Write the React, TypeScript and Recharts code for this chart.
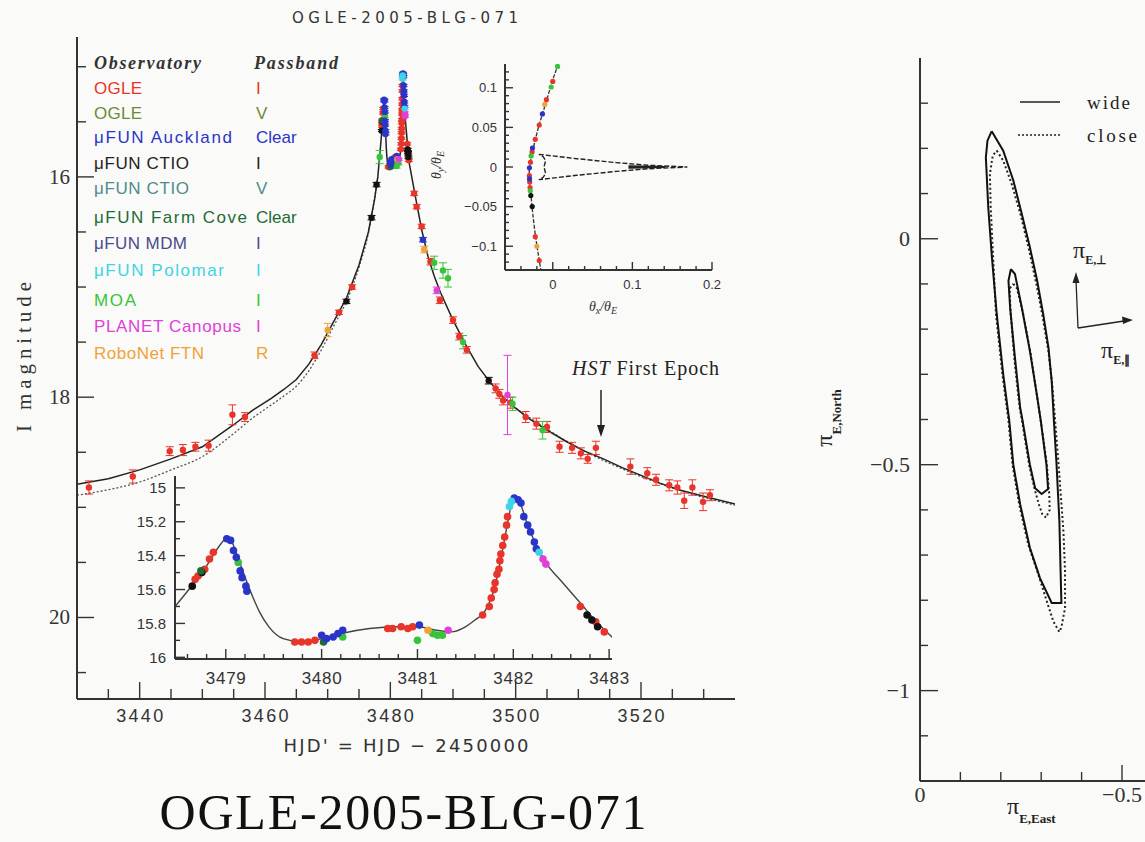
import React from "react";
import { ComposedChart, Line, Scatter, XAxis, YAxis, ErrorBar } from "recharts";

// ---------- light curve: [HJD', I mag, error] per observatory ----------
const ogleI = [
  [3431.9, 18.82, 0.06], [3438.9, 18.72, 0.06], [3444.8, 18.49, 0.04], [3446.9, 18.48, 0.05],
  [3448.9, 18.45, 0.04], [3451.0, 18.44, 0.05], [3454.8, 18.16, 0.09], [3456.8, 18.18, 0.04],
  [3467.9, 17.62, 0.03], [3471.8, 17.23, 0.02], [3473.9, 17.0, 0.02],
  [3478.68, 15.54, 0.01], [3478.71, 15.52, 0.01], [3478.78, 15.48, 0.01], [3478.83, 15.42, 0.01], [3478.87, 15.38, 0.01],
  [3479.72, 15.91, 0.01], [3479.79, 15.91, 0.01], [3479.86, 15.91, 0.01], [3479.93, 15.9, 0.01],
  [3480.69, 15.83, 0.01], [3480.74, 15.83, 0.01], [3480.83, 15.82, 0.01], [3480.9, 15.83, 0.01], [3480.95, 15.82, 0.01],
  [3481.68, 15.75, 0.01], [3481.75, 15.7, 0.01], [3481.77, 15.65, 0.01], [3481.8, 15.6, 0.01], [3481.81, 15.56, 0.01],
  [3481.83, 15.51, 0.01], [3481.85, 15.48, 0.01], [3481.86, 15.43, 0.01], [3481.87, 15.39, 0.01], [3481.89, 15.34, 0.01],
  [3481.91, 15.29, 0.01], [3481.93, 15.22, 0.01], [3481.94, 15.17, 0.01],
  [3482.7, 15.7, 0.01], [3482.86, 15.79, 0.01], [3482.95, 15.85, 0.01],
  [3483.8, 16.15, 0.02], [3484.2, 16.27, 0.02], [3485.0, 16.45, 0.02], [3486.4, 16.77, 0.03], [3487.9, 17.12, 0.03],
  [3490.0, 17.3, 0.03], [3491.0, 17.45, 0.03], [3492.2, 17.57, 0.03],
  [3496.8, 17.92, 0.04], [3497.4, 17.97, 0.04], [3498.0, 18.03, 0.04], [3499.2, 18.05, 0.05], [3501.6, 18.18, 0.05],
  [3503.3, 18.24, 0.05], [3505.0, 18.27, 0.05], [3507.0, 18.45, 0.05], [3509.0, 18.46, 0.05], [3510.4, 18.51, 0.05],
  [3511.5, 18.56, 0.04], [3512.8, 18.46, 0.06], [3518.3, 18.63, 0.07], [3521.0, 18.69, 0.05], [3522.4, 18.75, 0.05],
  [3524.5, 18.8, 0.05], [3525.8, 18.82, 0.06], [3526.9, 18.94, 0.07], [3528.2, 18.82, 0.07], [3529.9, 18.95, 0.08],
  [3531.0, 18.89, 0.05],
];
const moa = [
  [3478.3, 15.82, 0.06], [3479.13, 15.44, 0.02], [3480.22, 15.88, 0.02], [3481.0, 15.9, 0.02], [3481.16, 15.86, 0.02],
  [3481.21, 15.87, 0.02], [3481.26, 15.87, 0.02], [3487.0, 16.78, 0.06], [3488.4, 16.85, 0.07], [3489.2, 16.92, 0.08],
  [3491.6, 17.5, 0.06], [3499.5, 18.06, 0.06], [3504.3, 18.3, 0.08],
];
const auckland = [
  [3479.01, 15.3, 0.01], [3479.05, 15.31, 0.01], [3479.08, 15.37, 0.01], [3479.11, 15.41, 0.01], [3479.15, 15.49, 0.01],
  [3479.17, 15.53, 0.01], [3479.21, 15.58, 0.01], [3479.22, 15.61, 0.01], [3480.0, 15.87, 0.01], [3480.05, 15.89, 0.01],
  [3480.12, 15.88, 0.01], [3480.17, 15.86, 0.01], [3480.22, 15.84, 0.01], [3481.02, 15.81, 0.01], [3482.01, 15.06, 0.01],
  [3482.05, 15.07, 0.01], [3482.08, 15.09, 0.01], [3482.11, 15.17, 0.01], [3482.15, 15.22, 0.01], [3482.18, 15.26, 0.01],
  [3482.22, 15.32, 0.01], [3482.24, 15.36, 0.01], [3485.2, 16.57, 0.02],
];
const ctioI = [
  [3473.0, 17.13, 0.02], [3477.0, 16.37, 0.02], [3477.8, 16.07, 0.02], [3478.65, 15.58, 0.01], [3478.75, 15.5, 0.01],
  [3482.77, 15.75, 0.01], [3482.82, 15.78, 0.01], [3482.88, 15.82, 0.01], [3495.7, 17.85, 0.03],
];
const planet = [[3481.32, 15.84, 0.01], [3482.31, 15.42, 0.01], [3482.34, 15.45, 0.01], [3487.4, 17.03, 0.03], [3498.7, 17.98, 0.36]];
const robonet = [[3470.0, 17.39, 0.06], [3481.11, 15.84, 0.01], [3485.4, 16.66, 0.03]];
const palomar = [[3481.96, 15.11, 0.01], [3481.98, 15.08, 0.01], [3482.27, 15.38, 0.01]];
const farmCove = [[3478.74, 15.49, 0.01], [3480.02, 15.91, 0.01]];

// best-fit models: [HJD', I mag]
const wideModel = [
  [3430, 18.79], [3435, 18.74], [3440, 18.66], [3445, 18.56], [3450, 18.45], [3455, 18.25], [3458, 18.12],
  [3461, 18.01], [3463, 17.93], [3465, 17.84], [3467, 17.7], [3469, 17.52], [3471, 17.31], [3473, 17.1],
  [3475, 16.8], [3476.5, 16.5], [3477.5, 16.2], [3478, 16.0], [3478.47, 15.7], [3478.6, 15.61], [3478.8, 15.46],
  [3478.95, 15.33], [3479.0, 15.3], [3479.05, 15.31], [3479.15, 15.45], [3479.25, 15.6], [3479.35, 15.73],
  [3479.45, 15.82], [3479.6, 15.89], [3479.8, 15.91], [3480.0, 15.89], [3480.2, 15.86], [3480.5, 15.83],
  [3480.8, 15.82], [3481.0, 15.82], [3481.2, 15.84], [3481.35, 15.85], [3481.5, 15.82], [3481.6, 15.78],
  [3481.7, 15.73], [3481.8, 15.6], [3481.9, 15.33], [3481.95, 15.18], [3482.0, 15.06], [3482.05, 15.07],
  [3482.15, 15.22], [3482.25, 15.35], [3482.35, 15.45], [3482.5, 15.55], [3482.7, 15.68], [3482.9, 15.81],
  [3483.03, 15.88], [3484, 16.18], [3485, 16.48], [3486, 16.72], [3487, 16.9], [3488, 17.05], [3490, 17.3],
  [3492, 17.52], [3494, 17.72], [3496, 17.87], [3498, 18.0], [3500, 18.1], [3502, 18.19], [3505, 18.3],
  [3508, 18.4], [3511, 18.49], [3514, 18.56], [3517, 18.64], [3520, 18.71], [3523, 18.78], [3526, 18.84],
  [3530, 18.9], [3535, 18.97],
];
const closeModelRise = [
  [3430, 18.89], [3435, 18.84], [3440, 18.77], [3445, 18.66], [3450, 18.54], [3455, 18.33], [3458, 18.19],
  [3461, 18.07], [3463, 17.99], [3465, 17.9], [3467, 17.76], [3469, 17.57], [3471, 17.35], [3473, 17.13],
  [3475, 16.82], [3476.5, 16.51], [3478, 16.0],
];
const closeModelFall = [[3500, 18.1], [3510, 18.46], [3520, 18.72], [3530, 18.91], [3535, 18.98]];

// source trajectory and caustic: [θx/θE, θy/θE]
const trajectory = [
  [0.007, 0.13], [0.0, 0.11], [-0.006, 0.09], [-0.012, 0.07], [-0.018, 0.05], [-0.023, 0.03], [-0.027, 0.012],
  [-0.0295, -0.005], [-0.029, -0.02], [-0.027, -0.04], [-0.025, -0.06], [-0.022, -0.085], [-0.019, -0.105], [-0.015, -0.13],
];
const caustic = [
  [-0.0175, 0.016], [0.03, 0.0105], [0.08, 0.0055], [0.12, 0.0022], [0.169, 0], [0.12, -0.0022], [0.08, -0.0055],
  [0.03, -0.0105], [-0.0175, -0.016], [-0.012, -0.013], [-0.009, -0.008], [-0.011, 0], [-0.009, 0.008],
  [-0.012, 0.013], [-0.0175, 0.016],
];
const causticWing = [[0.095, 0.0012], [0.14, 0.0002], [0.14, -0.0002], [0.095, -0.0012]];
const trajRed = [[0.0, 0.108], [-0.008, 0.085], [-0.017, 0.053], [-0.022, 0.035], [-0.026, 0.019], [-0.028, 0.006], [-0.0294, -0.011], [-0.029, -0.019], [-0.0285, -0.026], [-0.022, -0.088], [-0.017, -0.118]];
const trajBlue = [[-0.013, 0.067], [-0.0255, 0.024], [-0.0293, -0.001], [-0.0292, -0.015]];
const trajGreen = [[0.006, 0.127], [-0.002, 0.101], [-0.0272, 0.014], [-0.0283, -0.03]];
const trajOrange = [[-0.01, 0.079], [-0.02, -0.1]];
const trajBlack = [[-0.0276, -0.036], [-0.0258, -0.05]];

// parallax contours: [πE,East, πE,North]
const wideOuter = [
  [-0.1775, 0.238], [-0.206, 0.195], [-0.231, 0.129], [-0.252, 0.055], [-0.272, -0.019], [-0.29, -0.093],
  [-0.305, -0.167], [-0.318, -0.241], [-0.326, -0.315], [-0.332, -0.411], [-0.338, -0.5], [-0.345, -0.625],
  [-0.348, -0.736], [-0.35, -0.806], [-0.326, -0.806], [-0.297, -0.751], [-0.272, -0.684], [-0.248, -0.588],
  [-0.231, -0.5], [-0.221, -0.403], [-0.206, -0.3], [-0.19, -0.167], [-0.178, -0.041], [-0.169, 0.069],
  [-0.163, 0.18], [-0.167, 0.217], [-0.1775, 0.238],
];
const wideInner = [
  [-0.225, -0.067], [-0.235, -0.078], [-0.252, -0.152], [-0.272, -0.248], [-0.289, -0.344], [-0.299, -0.403],
  [-0.313, -0.5], [-0.317, -0.554], [-0.301, -0.565], [-0.285, -0.552], [-0.272, -0.5], [-0.254, -0.403],
  [-0.248, -0.374], [-0.235, -0.263], [-0.223, -0.152], [-0.219, -0.093], [-0.225, -0.067],
];
const closeOuter = [
  [-0.19, 0.195], [-0.206, 0.173], [-0.227, 0.121], [-0.25, 0.05], [-0.27, -0.025], [-0.288, -0.1],
  [-0.304, -0.175], [-0.318, -0.25], [-0.328, -0.33], [-0.336, -0.42], [-0.343, -0.5], [-0.355, -0.647],
  [-0.359, -0.736], [-0.359, -0.817], [-0.35, -0.86], [-0.345, -0.87], [-0.33, -0.847], [-0.313, -0.8],
  [-0.293, -0.743], [-0.268, -0.677], [-0.246, -0.59], [-0.229, -0.5], [-0.219, -0.403], [-0.204, -0.3],
  [-0.188, -0.167], [-0.181, -0.041], [-0.175, 0.069], [-0.173, 0.143], [-0.18, 0.184], [-0.19, 0.195],
];
const closeInner = [
  [-0.231, -0.1], [-0.24, -0.11], [-0.255, -0.165], [-0.274, -0.255], [-0.29, -0.35], [-0.3, -0.41],
  [-0.314, -0.5], [-0.32, -0.566], [-0.321, -0.6], [-0.312, -0.617], [-0.303, -0.61], [-0.295, -0.59],
  [-0.284, -0.555], [-0.27, -0.5], [-0.253, -0.405], [-0.246, -0.37], [-0.234, -0.27], [-0.224, -0.16],
  [-0.222, -0.11], [-0.231, -0.1],
];

// legend rows: observatory, passband, colour
const legendRows = [
  ["OGLE", "I", "#e8352b"], ["OGLE", "V", "#6f8a35"], ["μFUN Auckland", "Clear", "#2a35c8"],
  ["μFUN CTIO", "I", "#222222"], ["μFUN CTIO", "V", "#4f8c8c"], ["μFUN Farm Cove", "Clear", "#1f6b35"],
  ["μFUN MDM", "I", "#4b4a8e"], ["μFUN Polomar", "I", "#3fd3e6"], ["MOA", "I", "#38c43a"],
  ["PLANET Canopus", "I", "#e040d8"], ["RoboNet FTN", "R", "#f0a23a"],
];
const legendY = [88, 113, 137, 163, 188, 217, 243, 270, 300, 326, 353];
const legendW = [48, 48, 138, 95, 95, 153, 93, 130, 42, 147, 110];

const INK = "#333";
const SANS = "Liberation Sans";
const SERIF = "Liberation Serif";

const pts = (a: number[][]) => a.map(([x, y, e]) => ({ x, y, e }));
const xy = (a: number[][]) => a.map(([x, y]) => ({ x, y }));
const steps = (a: number, b: number, s: number) => {
  const out: number[] = [];
  for (let i = 0; a + i * s <= b + 1e-9; i++) out.push(+(a + i * s).toFixed(4));
  return out;
};
const isMult = (v: number, m: number) => Math.abs(v / m - Math.round(v / m)) < 1e-6;
const minus = (v: number) => (v < 0 ? "\u2212" + String(-v) : String(v));

const series = [
  { d: ogleI, c: "#e8352b" }, { d: moa, c: "#38c43a" }, { d: ctioI, c: "#111" }, { d: farmCove, c: "#1f6b35" },
  { d: auckland, c: "#2a35c8" }, { d: robonet, c: "#f0a23a" }, { d: planet, c: "#e040d8" }, { d: palomar, c: "#3fd3e6" },
];

type Side = "bottom" | "top" | "left" | "right";
interface TickStyle {
  major: (v: number) => boolean;
  majorLen: number;
  minorLen: number;
  label?: (v: number) => string | null;
  gap?: number;
  font?: string;
  size?: number;
  width?: number;
}
const frameTick = (side: Side, s: TickStyle) => (props: any) => {
  const { x, y, payload } = props;
  const v = payload.value as number;
  const len = s.major(v) ? s.majorLen : s.minorLen;
  const x2 = side === "left" ? x + len : side === "right" ? x - len : x;
  const y2 = side === "bottom" ? y - len : side === "top" ? y + len : y;
  const txt = s.label ? s.label(v) : null;
  const gap = s.gap ?? 8;
  return (
    <g>
      <line x1={x} y1={y} x2={x2} y2={y2} stroke={INK} strokeWidth={1.4} />
      {txt && (
        <text
          x={side === "left" ? x - gap : x}
          y={side === "bottom" ? y + gap : y}
          textAnchor={side === "left" ? "end" : "middle"}
          dominantBaseline="central"
          fontFamily={s.font}
          fontSize={s.size}
          fill={INK}
          textLength={s.width}
          lengthAdjust="spacing"
        >
          {txt}
        </text>
      )}
    </g>
  );
};

const frame = { stroke: INK, strokeWidth: 2 };
const dot = (color: string, r: number) => (p: any) => <circle cx={p.cx} cy={p.cy} r={r} fill={color} />;

function MainCurve() {
  const xd: [number, number] = [3430, 3535];
  const yd: [number, number] = [14.73, 20.74];
  const xt = steps(3435, 3530, 5);
  const yt = steps(15, 20.5, 0.5);
  const xMaj = (v: number) => isMult(v, 20);
  const yMaj = (v: number) => isMult(v, 2);
  return (
    <ComposedChart width={760} height={760} margin={{ top: 37, right: 25, bottom: 21, left: 17 }}>
      <XAxis dataKey="x" type="number" domain={xd} ticks={xt} interval={0} allowDataOverflow height={40}
        tickSize={0} tickMargin={0} tickLine={false} axisLine={frame}
        tick={frameTick("bottom", { major: xMaj, majorLen: 17, minorLen: 10, label: (v) => (xMaj(v) ? String(v) : null), gap: 17, font: SANS, size: 18, width: 47 })} />
      <XAxis xAxisId="top" orientation="top" type="number" domain={xd} ticks={xt} interval={0} allowDataOverflow height={0}
        tickSize={0} tickMargin={0} tickLine={false} axisLine={frame}
        tick={frameTick("top", { major: xMaj, majorLen: 14, minorLen: 8 })} />
      <YAxis dataKey="y" type="number" domain={yd} reversed ticks={yt} interval={0} allowDataOverflow width={60}
        tickSize={0} tickMargin={0} tickLine={false} axisLine={frame}
        tick={frameTick("left", { major: yMaj, majorLen: 17, minorLen: 9, label: (v) => (yMaj(v) ? String(v) : null), gap: 7, font: SERIF, size: 21 })} />
      <YAxis yAxisId="right" orientation="right" type="number" domain={yd} reversed ticks={yt} interval={0} allowDataOverflow width={0}
        tickSize={0} tickMargin={0} tickLine={false} axisLine={frame}
        tick={frameTick("right", { major: yMaj, majorLen: 17, minorLen: 8 })} />
      <Line data={xy(closeModelRise)} dataKey="y" type="monotone" stroke="#555" strokeWidth={1.3} strokeDasharray="2 2" dot={false} activeDot={false} isAnimationActive={false} />
      <Line data={xy(closeModelFall)} dataKey="y" type="monotone" stroke="#555" strokeWidth={1.3} strokeDasharray="2 2" dot={false} activeDot={false} isAnimationActive={false} />
      <Line data={xy(wideModel)} dataKey="y" type="linear" stroke="#222" strokeWidth={1.5} dot={false} activeDot={false} isAnimationActive={false} />
      {series.map((s, i) => (
        <Scatter key={i} data={pts(s.d)} fill={s.c} shape={dot(s.c, 3.2)} isAnimationActive={false}>
          <ErrorBar dataKey="e" direction="y" width={4} stroke={s.c} strokeWidth={1} />
        </Scatter>
      ))}
    </ComposedChart>
  );
}

function PeakInset() {
  const xd: [number, number] = [3478.47, 3483.03];
  const yd: [number, number] = [14.93, 16.01];
  const xt = steps(3478.6, 3483.0, 0.2);
  const yt = steps(15, 16, 0.1);
  const xMaj = (v: number) => isMult(v, 1);
  const yMaj = (v: number) => isMult(v, 0.2);
  return (
    <ComposedChart width={520} height={260} margin={{ top: 36, right: 28, bottom: 11, left: 15 }}>
      <XAxis dataKey="x" type="number" domain={xd} ticks={xt} interval={0} allowDataOverflow height={30}
        tickSize={0} tickMargin={0} tickLine={false} axisLine={frame}
        tick={frameTick("bottom", { major: xMaj, majorLen: 10, minorLen: 5, label: (v) => (xMaj(v) ? String(v) : null), gap: 19, font: SANS, size: 17, width: 40 })} />
      <XAxis xAxisId="top" orientation="top" type="number" domain={xd} ticks={xt} interval={0} allowDataOverflow height={0}
        tickSize={0} tickMargin={0} tickLine={false} axisLine={frame}
        tick={frameTick("top", { major: xMaj, majorLen: 10, minorLen: 5 })} />
      <YAxis dataKey="y" type="number" domain={yd} reversed ticks={yt} interval={0} allowDataOverflow width={40}
        tickSize={0} tickMargin={0} tickLine={false} axisLine={frame}
        tick={frameTick("left", { major: yMaj, majorLen: 10, minorLen: 5, label: (v) => (yMaj(v) ? String(v) : null), gap: 9, font: SANS, size: 15 })} />
      <YAxis yAxisId="right" orientation="right" type="number" domain={yd} reversed ticks={yt} interval={0} allowDataOverflow width={0}
        tickSize={0} tickMargin={0} tickLine={false} axisLine={frame}
        tick={frameTick("right", { major: yMaj, majorLen: 10, minorLen: 5 })} />
      <Line data={xy(wideModel)} dataKey="y" type="monotone" stroke="#444" strokeWidth={1.4} dot={false} activeDot={false} isAnimationActive={false} />
      {series.map((s, i) => (
        <Scatter key={i} data={pts(s.d)} fill={s.c} shape={dot(s.c, 3.8)} isAnimationActive={false} />
      ))}
    </ComposedChart>
  );
}

function CausticInset() {
  const xd: [number, number] = [-0.06, 0.2];
  const yd: [number, number] = [-0.13, 0.13];
  const xt = steps(-0.04, 0.2, 0.02);
  const yt = steps(-0.12, 0.12, 0.01);
  const xMaj = (v: number) => isMult(v, 0.1);
  const yMaj = (v: number) => isMult(v, 0.05);
  const trajDots = [
    { d: trajRed, c: "#e8352b" }, { d: trajBlue, c: "#2a35c8" }, { d: trajGreen, c: "#38c43a" },
    { d: trajOrange, c: "#f0a23a" }, { d: trajBlack, c: "#111" },
  ];
  return (
    <ComposedChart width={290} height={260} margin={{ top: 14, right: 18, bottom: 15, left: 20 }}>
      <XAxis dataKey="x" type="number" domain={xd} ticks={xt} interval={0} allowDataOverflow height={25}
        tickSize={0} tickMargin={0} tickLine={false} axisLine={frame}
        tick={frameTick("bottom", { major: xMaj, majorLen: 8, minorLen: 4, label: (v) => (xMaj(v) ? minus(v) : null), gap: 14, font: SANS, size: 13 })} />
      <XAxis xAxisId="top" orientation="top" type="number" domain={xd} ticks={xt} interval={0} allowDataOverflow height={0}
        tickSize={0} tickMargin={0} tickLine={false} axisLine={frame}
        tick={frameTick("top", { major: xMaj, majorLen: 8, minorLen: 4 })} />
      <YAxis dataKey="y" type="number" domain={yd} ticks={yt} interval={0} allowDataOverflow width={45}
        tickSize={0} tickMargin={0} tickLine={false} axisLine={frame}
        tick={frameTick("left", { major: yMaj, majorLen: 8, minorLen: 4, label: (v) => (yMaj(v) ? minus(v) : null), gap: 8, font: SANS, size: 13 })} />
      <YAxis yAxisId="right" orientation="right" type="number" domain={yd} ticks={yt} interval={0} allowDataOverflow width={0}
        tickSize={0} tickMargin={0} tickLine={false} axisLine={frame}
        tick={frameTick("right", { major: yMaj, majorLen: 8, minorLen: 4 })} />
      <Line data={xy(caustic)} dataKey="y" type="linear" stroke="#222" strokeWidth={1.4} strokeDasharray="5 2" dot={false} activeDot={false} isAnimationActive={false} />
      <Line data={xy(causticWing)} dataKey="y" type="linear" stroke="#222" strokeWidth={1.8} dot={false} activeDot={false} isAnimationActive={false} />
      <Line data={xy(trajectory)} dataKey="y" type="natural" stroke="#333" strokeWidth={1.3} strokeDasharray="4 1.5" dot={false} activeDot={false} isAnimationActive={false} />
      {trajDots.map((s, i) => (
        <Scatter key={i} data={xy(s.d)} fill={s.c} shape={dot(s.c, 2.6)} isAnimationActive={false} />
      ))}
    </ComposedChart>
  );
}

function ParallaxPanel() {
  const xd: [number, number] = [-0.65, 0];
  const yd: [number, number] = [-1.2, 0.4];
  const xt = steps(-0.6, 0, 0.1);
  const yt = steps(-1.1, 0.3, 0.1);
  const maj = (v: number) => isMult(v, 0.5);
  return (
    <ComposedChart width={380} height={800} margin={{ top: 28, right: 37.4, bottom: 14, left: 10 }}>
      <XAxis dataKey="x" type="number" domain={xd} reversed ticks={xt} interval={0} allowDataOverflow height={35}
        tickSize={0} tickMargin={0} tickLine={false} axisLine={frame}
        tick={frameTick("bottom", { major: maj, majorLen: 16, minorLen: 9, label: (v) => (maj(v) ? minus(v) : null), gap: 13, font: SERIF, size: 22 })} />
      <XAxis xAxisId="top" orientation="top" type="number" domain={xd} reversed ticks={xt} interval={0} allowDataOverflow height={0}
        tickSize={0} tickMargin={0} tickLine={false} axisLine={frame}
        tick={frameTick("top", { major: maj, majorLen: 16, minorLen: 9 })} />
      <YAxis dataKey="y" type="number" domain={yd} ticks={yt} interval={0} allowDataOverflow width={70}
        tickSize={0} tickMargin={0} tickLine={false} axisLine={frame}
        tick={frameTick("left", { major: maj, majorLen: 18, minorLen: 8, label: (v) => (maj(v) ? minus(v) : null), gap: 10, font: SERIF, size: 22 })} />
      <YAxis yAxisId="right" orientation="right" type="number" domain={yd} ticks={yt} interval={0} allowDataOverflow width={0}
        tickSize={0} tickMargin={0} tickLine={false} axisLine={frame}
        tick={frameTick("right", { major: maj, majorLen: 18, minorLen: 8 })} />
      <Line data={xy(closeOuter)} dataKey="y" type="linear" stroke="#222" strokeWidth={2} strokeDasharray="2 2.5" dot={false} activeDot={false} isAnimationActive={false} />
      <Line data={xy(closeInner)} dataKey="y" type="linear" stroke="#222" strokeWidth={2} strokeDasharray="2 2.5" dot={false} activeDot={false} isAnimationActive={false} />
      <Line data={xy(wideOuter)} dataKey="y" type="linear" stroke="#111" strokeWidth={2} dot={false} activeDot={false} isAnimationActive={false} />
      <Line data={xy(wideInner)} dataKey="y" type="linear" stroke="#111" strokeWidth={2} dot={false} activeDot={false} isAnimationActive={false} />
    </ComposedChart>
  );
}

function Labels() {
  return (
    <svg width={1145} height={842} style={{ position: "absolute", left: 0, top: 0, pointerEvents: "none" }}>
      <text x={405} y={18} textAnchor="middle" dominantBaseline="central" fontFamily="DejaVu Sans" fontSize={15} fill={INK} textLength={226} lengthAdjust="spacing">
        OGLE-2005-BLG-071
      </text>
      <text x={94} y={63} dominantBaseline="central" fontFamily={SERIF} fontStyle="italic" fontWeight="bold" fontSize={18} fill={INK} textLength={107} lengthAdjust="spacing">Observatory</text>
      <text x={254} y={63} dominantBaseline="central" fontFamily={SERIF} fontStyle="italic" fontWeight="bold" fontSize={18} fill={INK} textLength={84} lengthAdjust="spacing">Passband</text>
      {legendRows.map(([name, band, color], i) => (
        <g key={i}>
          <text x={94} y={legendY[i]} dominantBaseline="central" fontFamily={SANS} fontSize={17} fill={color} textLength={legendW[i]} lengthAdjust="spacing">{name}</text>
          <text x={256} y={legendY[i]} dominantBaseline="central" fontFamily={SANS} fontSize={17} fill={color}>{band}</text>
        </g>
      ))}
      <text x={572} y={368} dominantBaseline="central" fontFamily={SERIF} fontSize={20} fill="#222" textLength={147} lengthAdjust="spacing">
        <tspan fontStyle="italic">HST</tspan> First Epoch
      </text>
      <line x1={601} y1={390} x2={601} y2={428} stroke="#222" strokeWidth={1.5} />
      <polygon points="601,437 597,425 605,425" fill="#222" />
      <text x={406} y={745} textAnchor="middle" dominantBaseline="central" fontFamily="DejaVu Sans" fontSize={18} fill={INK} textLength={245} lengthAdjust="spacing">
        HJD' = HJD − 2450000
      </text>
      <text transform="translate(24,357) rotate(-90)" textAnchor="middle" dominantBaseline="central" fontFamily={SERIF} fontSize={21} fill={INK} textLength={150} lengthAdjust="spacing">
        I magnitude
      </text>
      <text transform="translate(436,165) rotate(-90)" textAnchor="middle" dominantBaseline="central" fontFamily={SERIF} fontStyle="italic" fontSize={14} fill={INK}>
        θ<tspan fontSize={10} dy={4}>y</tspan><tspan dy={-4}>/θ</tspan><tspan fontSize={10} dy={4}>E</tspan>
      </text>
      <text x={603} y={306} textAnchor="middle" dominantBaseline="central" fontFamily={SERIF} fontStyle="italic" fontSize={14} fill={INK}>
        θ<tspan fontSize={10} dy={4}>x</tspan><tspan dy={-4}>/θ</tspan><tspan fontSize={10} dy={4}>E</tspan>
      </text>
      <text x={403} y={829} textAnchor="middle" fontFamily={SERIF} fontSize={50} fill="#111" textLength={487} lengthAdjust="spacing">
        OGLE-2005-BLG-071
      </text>

      {/* parallax panel annotations */}
      <line x1={1020} y1={102} x2={1060} y2={102} stroke="#222" strokeWidth={1.6} />
      <line x1={1018} y1={135} x2={1062} y2={135} stroke="#222" strokeWidth={1.6} strokeDasharray="2 2" />
      <text x={1087} y={102} dominantBaseline="central" fontFamily={SERIF} fontSize={19} fill="#222" textLength={43} lengthAdjust="spacing">wide</text>
      <text x={1087} y={135} dominantBaseline="central" fontFamily={SERIF} fontSize={19} fill="#222" textLength={50} lengthAdjust="spacing">close</text>
      <line x1={1078} y1={328} x2={1076} y2={280} stroke="#222" strokeWidth={1.3} />
      <polygon points="1076,272 1072.5,283 1079.5,283" fill="#222" />
      <line x1={1078} y1={328} x2={1124} y2={321} stroke="#222" strokeWidth={1.3} />
      <polygon points="1133,320 1122,316.5 1123,324" fill="#222" />
      <text x={1073} y={258} fontFamily={SERIF} fontSize={24} fill="#222">
        π<tspan fontSize={12} fontWeight="bold" dy={6}>E,⊥</tspan>
      </text>
      <text x={1101} y={358} fontFamily={SERIF} fontSize={24} fill="#222">
        π<tspan fontSize={12} fontWeight="bold" dy={6}>E,∥</tspan>
      </text>
      <text x={1007} y={814} fontFamily={SERIF} fontSize={24} fill="#222">
        π<tspan fontSize={13} fontWeight="bold" dy={9}>E,East</tspan>
      </text>
      <text transform="translate(832,418) rotate(-90)" textAnchor="middle" fontFamily={SERIF} fontSize={24} fill="#222">
        π<tspan fontSize={13} fontWeight="bold" dy={9}>E,North</tspan>
      </text>
    </svg>
  );
}

export default function App() {
  return (
    <div style={{ position: "absolute", left: 0, top: 0, width: 1145, height: 842, overflow: "hidden", background: "#fafaf8" }}>
      <div style={{ position: "absolute", left: 0, top: 0 }}>
        <MainCurve />
      </div>
      <div style={{ position: "absolute", left: 120, top: 440 }}>
        <PeakInset />
      </div>
      <div style={{ position: "absolute", left: 440, top: 50 }}>
        <CausticInset />
      </div>
      <div style={{ position: "absolute", left: 840, top: 30 }}>
        <ParallaxPanel />
      </div>
      <Labels />
    </div>
  );
}
